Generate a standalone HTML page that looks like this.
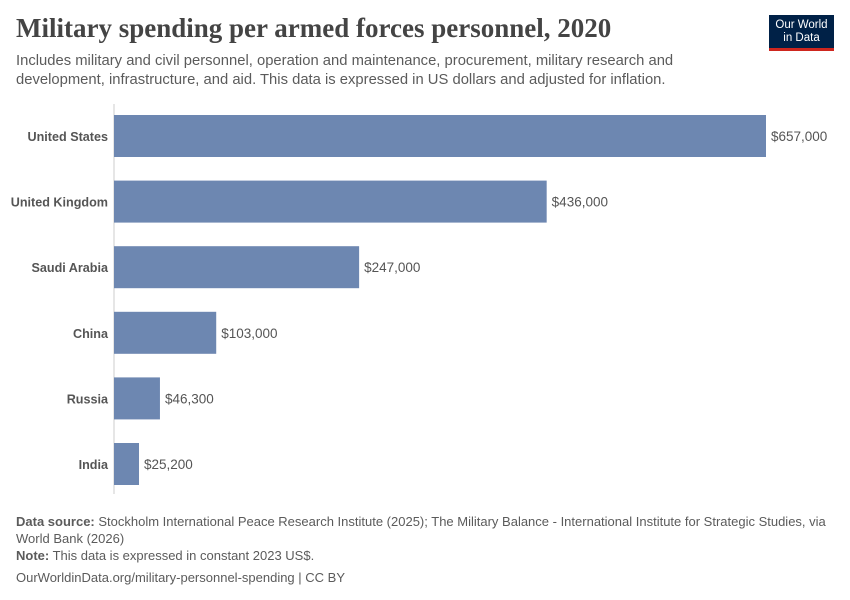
<!DOCTYPE html>
<html><head><meta charset="utf-8"><style>
body{margin:0;width:850px;height:600px;background:#fff;font-family:"Liberation Sans",sans-serif;position:relative;overflow:hidden}
.t{position:absolute;white-space:nowrap}
</style></head><body>
<div class="t" style="left:16px;top:13px;font-family:'Liberation Serif',serif;font-size:27px;color:#444;font-weight:bold">Military spending per armed forces personnel, 2020</div>
<div class="t" style="left:16px;top:52px;font-size:14.8px;color:#5b5b5b;line-height:19px">Includes military and civil personnel, operation and maintenance, procurement, military research and<br>development, infrastructure, and aid. This data is expressed in US dollars and adjusted for inflation.</div>
<div style="position:absolute;left:769px;top:15px;width:65px;height:36px;background:#002147;border-bottom:3px solid #ce261e;box-sizing:border-box;color:#fff;font-size:11.5px;text-align:center;line-height:13px;padding-top:4px">Our World<br>in Data</div>
<svg id="chart" width="850" height="600" style="position:absolute;left:0;top:0"></svg>
<div class="t" style="left:16px;top:513px;font-size:13px;color:#5b5b5b;line-height:17px"><b>Data source:</b> Stockholm International Peace Research Institute (2025); The Military Balance - International Institute for Strategic Studies, via<br>World Bank (2026)</div>
<div class="t" style="left:16px;top:548px;font-size:13px;color:#5b5b5b"><b>Note:</b> This data is expressed in constant 2023 US$.</div>
<div class="t" style="left:16px;top:570px;font-size:13px;color:#5b5b5b">OurWorldinData.org/military-personnel-spending | CC BY</div>
<script>
const countries=["United States","United Kingdom","Saudi Arabia","China","Russia","India"];
const values=[657000,436000,247000,103000,46300,25200];
const labels=["$657,000","$436,000","$247,000","$103,000","$46,300","$25,200"];
const svg=document.getElementById('chart');const NS="http://www.w3.org/2000/svg";
const x0=114,x1=766,maxV=657000;
const xs=v=>x0+(v/maxV)*(x1-x0);
const ys=i=>115+i*65.6;
const ax=document.createElementNS(NS,'line');
ax.setAttribute('x1',x0);ax.setAttribute('x2',x0);ax.setAttribute('y1',104);ax.setAttribute('y2',494);ax.setAttribute('stroke','#ccc');


svg.appendChild(ax);
countries.forEach((c,i)=>{
 const y=ys(i);
 const r=document.createElementNS(NS,'rect');
 r.setAttribute('x',x0);r.setAttribute('y',y);r.setAttribute('width',xs(values[i])-x0);r.setAttribute('height',42);r.setAttribute('fill','#6d87b1');
 
 
 svg.appendChild(r);
 const t=document.createElementNS(NS,'text');
 t.setAttribute('x',108);t.setAttribute('y',y+26);t.setAttribute('text-anchor','end');t.setAttribute('font-size','12.6');t.setAttribute('font-weight','bold');t.setAttribute('fill','#555');t.textContent=c;
 
 
 svg.appendChild(t);
 const v=document.createElementNS(NS,'text');
 v.setAttribute('x',xs(values[i])+5);v.setAttribute('y',y+26);v.setAttribute('font-size','13.5');v.setAttribute('fill','#555');v.textContent=labels[i];
 
 
 svg.appendChild(v);
});
</script>
</body></html>
